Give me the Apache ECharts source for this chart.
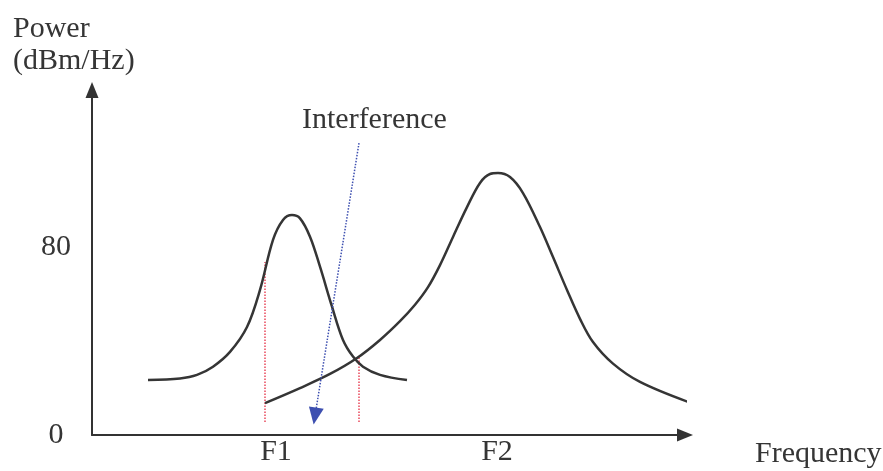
<!DOCTYPE html>
<html>
<head>
<meta charset="utf-8">
<script src="https://cdn.jsdelivr.net/npm/echarts@6/dist/echarts.min.js"></script>
<style>
html,body{margin:0;padding:0;background:#fff}
#chart{width:883px;height:471px}
</style>
</head>
<body>
<div id="chart"></div>
<script>
// tick labels
var yTicks = [0, 80];
var xTicks = [184, 405];
var xTickNames = ['F1', 'F2'];

// F1 signal curve
var f1X = [56, 88, 105, 121, 138, 155, 168, 181, 191, 200, 208, 218, 228, 240, 251, 261, 271, 288, 315];
var f1Y = [23.4, 24.1, 25.6, 29.1, 35.4, 46.0, 61.8, 83.1, 91.6, 93.7, 92.3, 84.5, 71.7, 54.7, 40.5, 33.4, 29.1, 25.6, 23.4];

// F2 signal curve
var f2X = [173, 208, 238, 265, 288, 308, 323, 336, 348, 361, 375, 388, 398, 406, 418, 431, 448, 461, 475, 488, 501, 521, 548, 596];
var f2Y = [13.6, 20.0, 26.0, 32.8, 40.5, 48.5, 55.5, 63.0, 72.4, 84.4, 97.1, 107.4, 111.2, 111.6, 109.9, 103.1, 88.6, 75.8, 61.8, 49.5, 39.6, 30.4, 22.6, 14.1];

// red dotted band edges around F1
var bandX = [173, 267];
var bandTop = [73.7, 33.2];
var bandBottom = [5.5, 5.5];

// interference arrow (start, end)
var interfFrom = [267, 124.4];
var interfTo = [223, 8.1];

function zip(xs, ys) {
    return xs.map(function (x, i) { return [x, ys[i]]; });
}

var font = '"Liberation Serif", "Times New Roman", serif';
var ink = '#353535';

var series = [
    {
        name: 'F1', type: 'line', data: zip(f1X, f1Y), smooth: 0.35,
        showSymbol: false, clip: false,
        lineStyle: { color: ink, width: 2.5 }
    },
    {
        name: 'F2', type: 'line', data: zip(f2X, f2Y), smooth: 0.35,
        showSymbol: false, clip: false,
        lineStyle: { color: ink, width: 2.5 }
    }
];
bandX.forEach(function (x, i) {
    series.push({
        type: 'line', showSymbol: false,
        data: [[x, bandBottom[i]], [x, bandTop[i]]],
        lineStyle: { color: '#e8475a', width: 1.5, type: 'dotted' },
        z: 1
    });
});
series.push({
    type: 'line', data: [],
    markLine: {
        silent: true,
        symbol: ['none', 'triangle'],
        symbolSize: [15, 17],
        label: { show: false },
        itemStyle: { color: '#2c3a98' },
        lineStyle: { color: '#3d4fb0', width: 1.5, type: 'dotted' },
        data: [[{ coord: interfFrom }, { coord: interfTo }]]
    }
});

var option = {
    animation: false,
    backgroundColor: '#fff',
    title: [
        {
            text: 'Power\n(dBm/Hz)', left: 8, top: 8,
            textStyle: { fontFamily: font, fontSize: 30, fontWeight: 'normal', color: ink, lineHeight: 32 }
        },
        {
            text: 'Interference', left: 297, top: 100,
            textStyle: { fontFamily: font, fontSize: 30, fontWeight: 'normal', color: ink }
        },
        {
            text: 'Frequency', left: 750, top: 434,
            textStyle: { fontFamily: font, fontSize: 30, fontWeight: 'normal', color: ink }
        }
    ],
    grid: { left: 92, right: 198, top: 90, bottom: 36 },
    xAxis: {
        type: 'value', min: 0, max: 593,
        splitLine: { show: false },
        axisTick: { show: false },
        axisLine: {
            symbol: ['none', 'triangle'], symbolSize: [13, 16],
            lineStyle: { color: '#333', width: 2 }
        },
        axisLabel: {
            customValues: xTicks, margin: 2,
            fontFamily: font, fontSize: 30, color: ink,
            formatter: function (v) { return xTickNames[xTicks.indexOf(v)] || ''; }
        }
    },
    yAxis: {
        type: 'value', min: 0, max: 147,
        splitLine: { show: false },
        axisTick: { show: false },
        axisLine: {
            symbol: ['none', 'triangle'], symbolSize: [13, 16],
            lineStyle: { color: '#333', width: 2 }
        },
        axisLabel: {
            customValues: yTicks, margin: 36, align: 'center',
            fontFamily: font, fontSize: 30, color: ink
        }
    },
    series: series
};

var chart = echarts.init(document.getElementById('chart'));
chart.setOption(option);
</script>
</body>
</html>
